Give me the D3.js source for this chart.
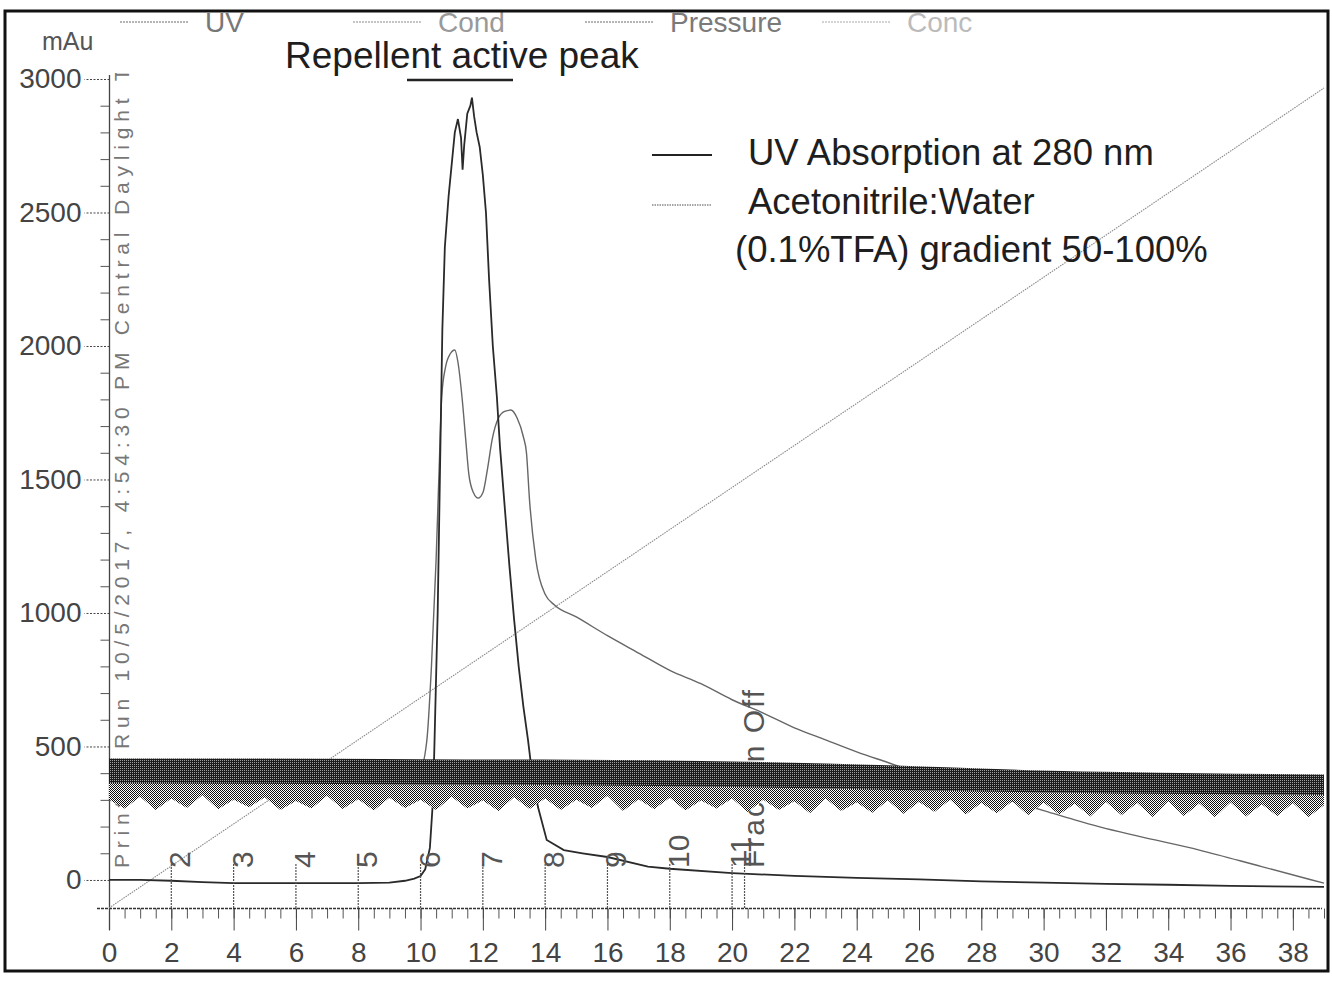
<!DOCTYPE html>
<html><head><meta charset="utf-8">
<script src="https://cdn.jsdelivr.net/npm/d3@7"></script>
<style>
body{margin:0;background:#fff}
svg{display:block}
text{font-family:"Liberation Sans",Arial,Helvetica,sans-serif}
</style>
</head><body>
<svg id="chart" width="1332" height="981"></svg>
<script>
// ---------------- DATA ----------------
const xTicks = [0,2,4,6,8,10,12,14,16,18,20,22,24,26,28,30,32,34,36,38];
const yTicks = [0,500,1000,1500,2000,2500,3000];

// UV absorption at 280 nm (mAu)
const uvTime  = [0,1,2,3,4,6,8,9,9.5,9.8,10,10.15,10.3,10.4,10.45,10.55,10.62,10.7,10.78,10.9,11.0,11.1,11.2,11.3,11.35,11.4,11.5,11.6,11.65,11.72,11.8,11.9,12.0,12.1,12.2,12.32,12.45,12.55,12.7,12.85,13.0,13.15,13.3,13.45,13.6,13.77,14.05,14.6,15.2,16,17.3,18,20,22,24,26,28,30,32,34,36,39];
const uvValue = [0,0,-3,-8,-12,-12,-12,-10,-3,5,15,40,120,300,524,1000,1500,2060,2370,2560,2680,2800,2850,2780,2660,2750,2870,2900,2930,2860,2800,2745,2640,2500,2250,2000,1810,1622,1400,1180,980,800,650,524,380,273,150,112,100,86,50,42,26,15,8,2,-5,-10,-15,-18,-22,-26];

// Cond trace (double peak with long tail)
const condTime  = [0,5,10,10.2,10.35,10.5,10.6,10.68,10.8,10.95,11.1,11.2,11.33,11.45,11.55,11.7,11.85,12.0,12.15,12.3,12.5,12.7,12.9,13.1,13.3,13.4,13.5,13.7,14.0,14.3,15,16,17,18,19,20,21,22,23,24,25,26,27,28,29,30,31,31.8,33,35,37,39];
const condValue = [400,400,420,520,800,1200,1550,1810,1920,1970,1985,1940,1810,1650,1520,1450,1430,1450,1540,1650,1730,1755,1760,1730,1660,1600,1420,1200,1070,1030,985,915,850,785,735,675,625,570,525,480,440,400,365,330,295,260,225,199,165,112,50,-12];

// Gradient concentration (% acetonitrile)
const concTime  = [0,39];
const concValue = [50,100];

// Pressure trace envelope (noisy band)
const bandTime  = [0,5,10,15,20,25,30,35,39];
const bandTop   = [455,455,452,450,444,430,410,400,395];
const bandDense = [362,360,358,355,348,338,328,322,318];
const pressureLow = [300,268,312,262,305,270,318,265,300,272,310,262,296,268,315,266,302,260,308,270,300,
  262,312,268,298,258,310,266,305,262,300,270,315,258,302,265,308,260,298,268,305,
  255,300,262,295,250,305,258,290,252,298,248,292,255,300,245,288,250,295,242,290,
  245,285,238,292,242,288,236,295,240,286,235,290,238,284,240,288,236,280];
const pressureTime = d3.range(0, 39.01, 0.5);

// Fraction marks
const fractionTime  = [2,4,6,8,10,12,14,16,18,20,20.4];
const fractionLabel = ["2","3","4","5","6","7","8","9","10","11","Fraction Off"];

// Legends
const topLegend = [
  {name:"UV", x:120, color:"#6a6a6a", text:"#777"},
  {name:"Cond", x:353, color:"#8a8a8a", text:"#999"},
  {name:"Pressure", x:585, color:"#6a6a6a", text:"#7a7a7a"},
  {name:"Conc", x:822, color:"#aaa", text:"#bbb"}
];

// ---------------- CHART ----------------
const svg = d3.select("#chart");
const x = d3.scaleLinear().domain([0,39]).range([109,1324]);
const y = d3.scaleLinear().domain([-105,3000]).range([908,79]);
const yConc = d3.scaleLinear().domain([50,100]).range([908,88]);

const defs = svg.append("defs");
const pd = defs.append("pattern").attr("id","dense").attr("width",2).attr("height",2).attr("patternUnits","userSpaceOnUse");
pd.append("rect").attr("width",2).attr("height",2).attr("fill","#1c1c1c");
pd.append("rect").attr("width",1).attr("height",1).attr("fill","#a0a0a0");
const pm = defs.append("pattern").attr("id","mid").attr("width",2).attr("height",2).attr("patternUnits","userSpaceOnUse");
pm.append("rect").attr("width",2).attr("height",2).attr("fill","#fff");
pm.append("rect").attr("x",0).attr("y",0).attr("width",1).attr("height",1).attr("fill","#111");
pm.append("rect").attr("x",1).attr("y",1).attr("width",1).attr("height",1).attr("fill","#111");
defs.append("clipPath").attr("id","clipTop").append("rect").attr("x",0).attr("y",73).attr("width",1332).attr("height",900);

svg.append("rect").attr("width",1332).attr("height",981).attr("fill","#fff");

// top legend
topLegend.forEach(d => {
  svg.append("line").attr("x1",d.x).attr("x2",d.x+68).attr("y1",22).attr("y2",22)
    .attr("stroke",d.color).attr("stroke-width",1.2).attr("stroke-dasharray","2,1");
  svg.append("text").attr("x",d.x+85).attr("y",32).attr("font-size",28).attr("fill",d.text).text(d.name);
});

// mAu
svg.append("text").attr("x",42).attr("y",50).attr("font-size",25).attr("fill","#555").text("mAu");

// rotated print text
svg.append("g").attr("clip-path","url(#clipTop)")
  .append("text").attr("transform","translate(129,868) rotate(-90)")
  .attr("font-size",21).attr("fill","#777")
  .attr("textLength",850).attr("lengthAdjust","spacing")
  .text("Printed Run 10/5/2017, 4:54:30 PM Central Daylight Time");

// Y axis
const yMinor = d3.range(0,3001,100).filter(v => v % 500 !== 0);
svg.append("g").attr("transform","translate(109.5,0)")
  .call(d3.axisLeft(y).tickValues(yMinor).tickSize(9).tickFormat(""))
  .call(g => g.select(".domain").remove())
  .call(g => g.selectAll("line").attr("stroke","#555"));
svg.append("g").attr("transform","translate(109.5,0)")
  .call(d3.axisLeft(y).tickValues(yTicks).tickSize(25).tickPadding(3).tickFormat(d3.format("d")))
  .call(g => g.select(".domain").remove())
  .call(g => g.selectAll("line").attr("stroke","#444").attr("stroke-dasharray","2,1.5"))
  .call(g => g.selectAll("text").attr("font-size",28).attr("fill","#444").attr("font-family","Liberation Sans, Arial, sans-serif"));
svg.append("line").attr("x1",109.5).attr("x2",109.5).attr("y1",75).attr("y2",930)
  .attr("stroke","#444").attr("stroke-width",1.3);

// X axis
svg.append("g").attr("transform","translate(0,908.5)")
  .call(d3.axisBottom(x).tickValues(d3.range(0,39.01,0.5)).tickSize(10).tickFormat(""))
  .call(g => g.select(".domain").remove())
  .call(g => g.selectAll("line").attr("stroke","#555"));
svg.append("g").attr("transform","translate(0,908.5)")
  .call(d3.axisBottom(x).tickValues(xTicks).tickSize(22).tickPadding(12))
  .call(g => g.select(".domain").remove())
  .call(g => g.selectAll("line").attr("stroke","#444"))
  .call(g => g.selectAll("text").attr("font-size",28).attr("fill","#444").attr("font-family","Liberation Sans, Arial, sans-serif"));
svg.append("line").attr("x1",97).attr("x2",1322).attr("y1",908.5).attr("y2",908.5)
  .attr("stroke","#333").attr("stroke-width",1.4).attr("stroke-dasharray","3,1");

// Lines
svg.append("path").attr("d", d3.line().x((d,i)=>x(concTime[i])).y((d,i)=>yConc(concValue[i]))(concTime))
  .attr("fill","none").attr("stroke","#888").attr("stroke-width",1.1).attr("stroke-dasharray","1.5,1");
svg.append("path").attr("d", d3.line().curve(d3.curveMonotoneX).x((d,i)=>x(condTime[i])).y((d,i)=>y(condValue[i]))(condTime))
  .attr("fill","none").attr("stroke","#666").attr("stroke-width",1.4);
svg.append("path").attr("d", d3.line().x((d,i)=>x(uvTime[i])).y((d,i)=>y(uvValue[i]))(uvTime))
  .attr("fill","none").attr("stroke","#2a2a2a").attr("stroke-width",1.8);

// Fraction markers (labels partly hidden by band)
fractionTime.forEach((t,i) => {
  svg.append("line").attr("x1",x(t)).attr("x2",x(t)).attr("y1",908).attr("y2",864)
    .attr("stroke","#555").attr("stroke-width",1.2).attr("stroke-dasharray","2,1");
  svg.append("text").attr("transform",`translate(${x(t)+19},868) rotate(-90)`)
    .attr("font-size",30).attr("fill","#555")
    .attr("letter-spacing", fractionLabel[i].length>3 ? 2 : 0)
    .text(fractionLabel[i]);
});

// Pressure band
svg.append("path")
  .attr("d", d3.area().x((d,i)=>x(pressureTime[i])).y0((d,i)=>y(pressureLow[i])).y1(y(380))(pressureTime))
  .attr("fill","url(#mid)");
svg.append("path")
  .attr("d", d3.area().curve(d3.curveMonotoneX).x((d,i)=>x(bandTime[i])).y0((d,i)=>y(bandDense[i])).y1((d,i)=>y(bandTop[i]))(bandTime))
  .attr("fill","url(#dense)");

// Annotation
svg.append("text").attr("x",285).attr("y",68).attr("font-size",37).attr("fill","#1e1e1e").text("Repellent active peak");
svg.append("line").attr("x1",407).attr("x2",513).attr("y1",80).attr("y2",80).attr("stroke","#222").attr("stroke-width",2.5);

// Right legend
svg.append("line").attr("x1",652).attr("x2",712).attr("y1",155).attr("y2",155).attr("stroke","#222").attr("stroke-width",2);
svg.append("text").attr("x",748).attr("y",165).attr("font-size",36.5).attr("fill","#1e1e1e").text("UV Absorption at 280 nm");
svg.append("line").attr("x1",652).attr("x2",712).attr("y1",205).attr("y2",205).attr("stroke","#888").attr("stroke-width",1.3).attr("stroke-dasharray","1.5,1");
svg.append("text").attr("x",748).attr("y",214).attr("font-size",36.5).attr("fill","#1e1e1e").text("Acetonitrile:Water");
svg.append("text").attr("x",735).attr("y",262).attr("font-size",36.5).attr("fill","#1e1e1e").text("(0.1%TFA) gradient 50-100%");

// Frame
svg.append("rect").attr("x",5).attr("y",11).attr("width",1323).attr("height",960)
  .attr("fill","none").attr("stroke","#111").attr("stroke-width",3);
</script>
</body></html>
